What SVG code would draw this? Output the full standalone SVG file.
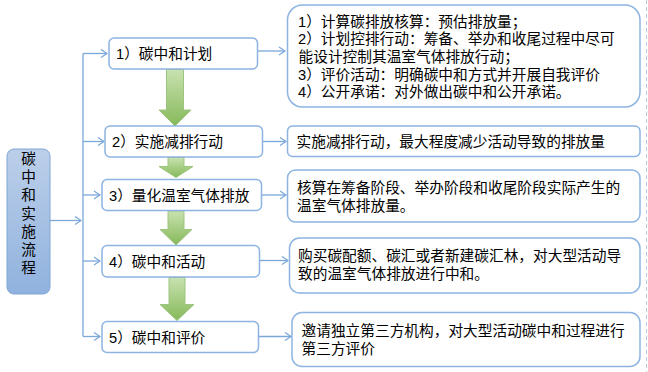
<svg xmlns="http://www.w3.org/2000/svg" width="648" height="372" viewBox="0 0 648 372">
<defs>
<style>
text{font-family:"Liberation Sans","Noto Sans CJK SC",sans-serif;font-size:14.7px;fill:#000}
.box{fill:#fff;stroke:#8db4e2;stroke-width:1.5}
.con{fill:none;stroke:#7ba7d9;stroke-width:1.3}
.big{fill:url(#gg);stroke:#9cc57f;stroke-width:1}
</style>
<linearGradient id="bg" x1="0" y1="0" x2="0" y2="1">
<stop offset="0" stop-color="#bccfe9"/><stop offset="1" stop-color="#90b2de"/>
</linearGradient>
<linearGradient id="gg" x1="0" y1="0" x2="0" y2="1">
<stop offset="0" stop-color="#c8e2b0"/><stop offset="1" stop-color="#86b95a"/>
</linearGradient>
<marker id="ah" markerWidth="8" markerHeight="10" refX="7" refY="5" orient="auto" markerUnits="userSpaceOnUse">
<path d="M1,1 L7,5 L1,9" fill="none" stroke="#7ba7d9" stroke-width="1.3"/>
</marker>
</defs>
<line x1="646.5" y1="0" x2="646.5" y2="372" stroke="#b7c9dd" stroke-width="1" stroke-dasharray="4,3"/>
<g id="connectors">
<path class="con" d="M50,220.5 H81" marker-end="url(#ah)"/>
<path class="con" d="M83,53.5 V336.5"/>
<path class="con" d="M83,53.5 H107" marker-end="url(#ah)"/>
<path class="con" d="M83,141.5 H104" marker-end="url(#ah)"/>
<path class="con" d="M83,195 H100" marker-end="url(#ah)"/>
<path class="con" d="M83,261 H100" marker-end="url(#ah)"/>
<path class="con" d="M83,336.5 H100" marker-end="url(#ah)"/>
<path class="con" d="M257.5,51 H285" marker-end="url(#ah)"/>
<path class="con" d="M262.5,141.5 H286" marker-end="url(#ah)"/>
<path class="con" d="M261.5,195 H286" marker-end="url(#ah)"/>
<path class="con" d="M259.5,260.5 H288" marker-end="url(#ah)"/>
<path class="con" d="M258.5,336.5 H291" marker-end="url(#ah)"/>
<path class="big" d="M166.5,69.5 H183.5 V110 H191 L175,126 L159,110 H166.5 Z"/>
<path class="big" d="M168,157.5 H184 V166.5 H193 L176,177.5 L159,166.5 H168 Z"/>
<path class="big" d="M168,211 H184 V229.5 H192 L176,245 L160,229.5 H168 Z"/>
<path class="big" d="M169,277.5 H185 V304.5 H194 L177,320.5 L160,304.5 H169 Z"/>
</g>
<g id="root">
<rect x="7" y="149" width="43" height="145" rx="7" fill="url(#bg)" stroke="#7fa6d6" stroke-width="1"/>
<text x="28.5" text-anchor="middle"><tspan x="28.5" y="164">碳</tspan><tspan x="28.5" y="182">中</tspan><tspan x="28.5" y="200">和</tspan><tspan x="28.5" y="218.5">实</tspan><tspan x="28.5" y="236.5">施</tspan><tspan x="28.5" y="254.5">流</tspan><tspan x="28.5" y="272.5">程</tspan></text>
</g>
<g id="n1"><rect class="box" x="109" y="38" width="148.5" height="31" rx="5"/><text x="116" y="59">1）碳中和计划</text></g>
<g id="n2"><rect class="box" x="105" y="126" width="157.5" height="31" rx="5"/><text x="112" y="147">2）实施减排行动</text></g>
<g id="n3"><rect class="box" x="102" y="179.5" width="159.5" height="31" rx="5"/><text x="109" y="201">3）量化温室气体排放</text></g>
<g id="n4"><rect class="box" x="102" y="245.5" width="157.5" height="31.5" rx="5"/><text x="109" y="266.5">4）碳中和活动</text></g>
<g id="n5"><rect class="box" x="102" y="321.5" width="156.5" height="31" rx="5"/><text x="109" y="342.5">5）碳中和评价</text></g>
<g id="r1"><rect class="box" x="287.5" y="5" width="352.5" height="102" rx="15"/>
<text><tspan x="298" y="26.5">1）计算碳排放核算：预估排放量；</tspan><tspan x="298" y="44.2">2）计划控排行动：筹备、举办和收尾过程中尽可</tspan><tspan x="298.5" y="61.9">能设计控制其温室气体排放行动；</tspan><tspan x="298" y="79.6">3）评价活动：明确碳中和方式并开展自我评价</tspan><tspan x="298" y="97.3">4）公开承诺：对外做出碳中和公开承诺。</tspan></text></g>
<g id="r2"><rect class="box" x="287.5" y="126" width="352.5" height="30.5" rx="5"/><text x="296.5" y="147">实施减排行动，最大程度减少活动导致的排放量</text></g>
<g id="r3"><rect class="box" x="287.5" y="170" width="352.5" height="52" rx="8"/><text><tspan x="297" y="192.5">核算在筹备阶段、举办阶段和收尾阶段实际产生的</tspan><tspan x="297" y="210.8">温室气体排放量。</tspan></text></g>
<g id="r4"><rect class="box" x="289.5" y="238" width="350.5" height="55" rx="10"/><text><tspan x="298" y="260.8">购买碳配额、碳汇或者新建碳汇林，对大型活动导</tspan><tspan x="298" y="279">致的温室气体排放进行中和。</tspan></text></g>
<g id="r5"><rect class="box" x="292" y="312.5" width="348" height="54" rx="10"/><text><tspan x="301.5" y="336">邀请独立第三方机构，对大型活动碳中和过程进行</tspan><tspan x="301.5" y="354">第三方评价</tspan></text></g>
</svg>
